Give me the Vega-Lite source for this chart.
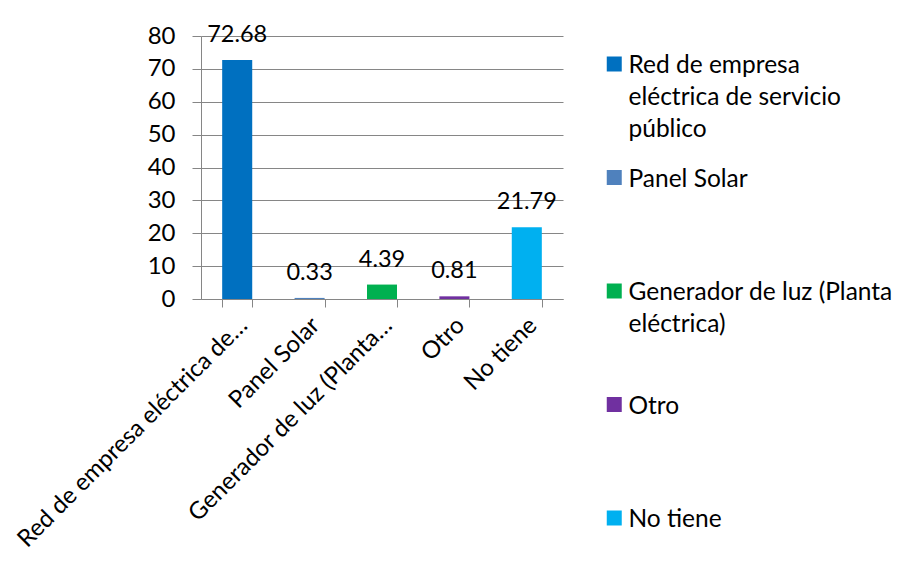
{
  "$schema": "https://vega.github.io/schema/vega-lite/v6.json",
  "autosize": "none",
  "width": 362,
  "height": 263,
  "padding": {"left": 201, "top": 36, "right": 344, "bottom": 270},
  "background": "white",
  "data": {
    "values": [
      {"categoria": "Red de empresa eléctrica de servicio público", "valor": 72.68},
      {"categoria": "Panel Solar", "valor": 0.33},
      {"categoria": "Generador de luz (Planta eléctrica)", "valor": 4.39},
      {"categoria": "Otro", "valor": 0.81},
      {"categoria": "No tiene", "valor": 21.79}
    ]
  },
  "encoding": {
    "x": {
      "field": "categoria",
      "type": "nominal",
      "sort": null,
      "scale": {"paddingInner": 0.585, "paddingOuter": 0.2925},
      "axis": {
        "title": null,
        "labelAngle": -45,
        "labelAlign": "right",
        "labelBaseline": "top",
        "labelOffset": -2.5,
        "labelPadding": 6,
        "labelLimit": 600,
        "labelOverlap": false,
        "tickBand": "extent",
        "tickSize": 8,
        "labelExpr": "datum.value == 'Red de empresa eléctrica de servicio público' ? 'Red de empresa eléctrica de…' : datum.value == 'Generador de luz (Planta eléctrica)' ? 'Generador de luz (Planta…' : datum.label"
      }
    },
    "y": {
      "field": "valor",
      "type": "quantitative",
      "scale": {"domain": [0, 80], "nice": false},
      "axis": {
        "title": null,
        "values": [0, 10, 20, 30, 40, 50, 60, 70, 80],
        "tickSize": 9,
        "labelPadding": 17,
        "grid": true
      }
    }
  },
  "layer": [
    {
      "mark": {"type": "bar"},
      "encoding": {
        "color": {
          "field": "categoria",
          "type": "nominal",
          "sort": null,
          "scale": {
            "domain": [
              "Red de empresa eléctrica de servicio público",
              "Panel Solar",
              "Generador de luz (Planta eléctrica)",
              "Otro",
              "No tiene"
            ],
            "range": ["#0070C0", "#4F81BD", "#00B050", "#7030A0", "#00B0F0"]
          },
          "legend": {
            "title": null,
            "orient": "right",
            "offset": 33,
            "padding": 6,
            "gridAlign": "all",
            "rowPadding": 13.5,
            "symbolType": "M-1,0.3H1V2.3H-1Z",
            "symbolSize": 225,
            "symbolStrokeWidth": 0,
            "symbolOpacity": 1,
            "labelBaseline": "top",
            "labelOffset": 2,
            "labelFontSize": 24.5,
            "labelLimit": 400,
            "labelExpr": "datum.label == 'Red de empresa eléctrica de servicio público' ? ['Red de empresa', 'eléctrica de servicio', 'público'] : datum.label == 'Generador de luz (Planta eléctrica)' ? ['Generador de luz (Planta', 'eléctrica)'] : datum.label"
          }
        }
      }
    },
    {
      "mark": {"type": "text", "baseline": "alphabetic", "dy": -18, "fontSize": 23.5, "font": "Lato", "color": "#000000"},
      "encoding": {
        "text": {"field": "valor", "type": "quantitative", "format": ".2f"}
      }
    }
  ],
  "config": {
    "font": "Lato",
    "view": {"stroke": null},
    "axis": {
      "labelFont": "Lato",
      "labelFontSize": 24,
      "labelColor": "#000000",
      "domainColor": "#868686",
      "tickColor": "#868686",
      "gridColor": "#868686",
      "gridOpacity": 1,
      "domainWidth": 1,
      "tickWidth": 1,
      "gridWidth": 1
    },
    "legend": {
      "labelFont": "Lato",
      "labelColor": "#000000"
    },
    "style": {"guide-label": {"lineHeight": 32}}
  }
}
